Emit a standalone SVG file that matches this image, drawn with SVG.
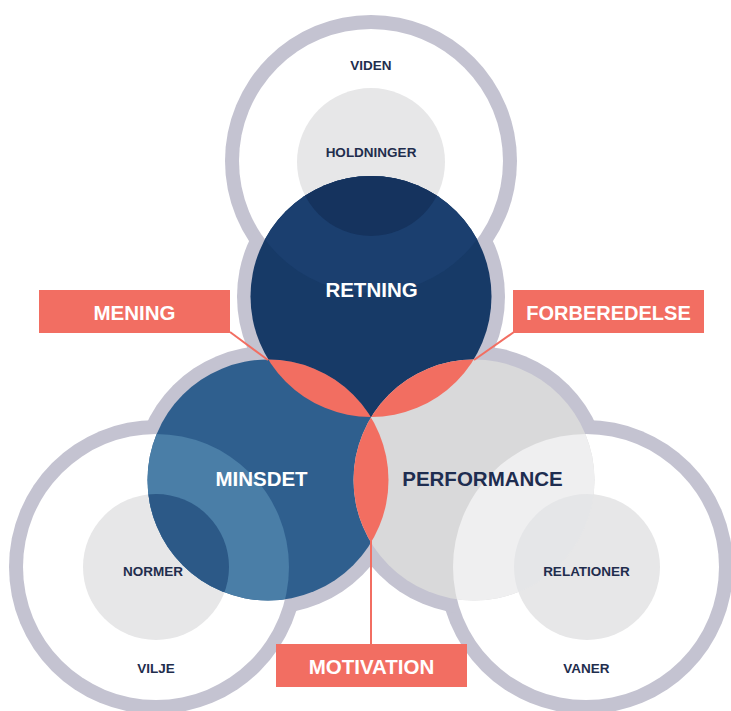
<svg xmlns="http://www.w3.org/2000/svg" width="731" height="711" viewBox="0 0 731 711">
<defs>
<style>
.ring{fill:#c4c3d1}
.hole{fill:#ffffff}
.core{fill:#e7e7e8}
.lens{fill:#f26e61}
.tag{fill:#f26e62}
.lbl{font-family:"Liberation Sans",Arial,sans-serif;font-weight:bold;text-anchor:middle}
.sm{font-size:13.5px;fill:#1f2d4d}
.big{font-size:20.5px}
.w{fill:#ffffff}
.n{fill:#1e2d50}
.conn{stroke:#f26e62;stroke-width:2;fill:none}
</style>
<clipPath id="cTop"><circle cx="371" cy="296.5" r="120.5"/></clipPath>
<clipPath id="cLeft"><circle cx="268" cy="480" r="120.5"/></clipPath>
<clipPath id="cRight"><circle cx="474" cy="480" r="120.5"/></clipPath>
</defs>
<rect x="0" y="0" width="731" height="711" fill="#ffffff"/>

<g id="outlines">
<circle class="ring" cx="371" cy="161" r="146"/>
<circle class="ring" cx="156" cy="567" r="147"/>
<circle class="ring" cx="586" cy="567" r="147"/>
<circle class="ring" cx="371" cy="296.5" r="134"/>
<circle class="ring" cx="268" cy="480" r="134"/>
<circle class="ring" cx="474" cy="480" r="134"/>
</g>

<g id="node-viden">
<circle class="hole" cx="371" cy="161" r="132"/>
<circle class="core" cx="371" cy="162" r="74"/>
<text class="lbl sm" x="371" y="70">VIDEN</text>
<text class="lbl sm" x="371" y="157">HOLDNINGER</text>
</g>

<g id="node-vilje">
<circle class="hole" cx="156" cy="567" r="133"/>
<circle class="core" cx="156" cy="567" r="73"/>
<text class="lbl sm" x="153" y="576">NORMER</text>
<text class="lbl sm" x="156" y="673">VILJE</text>
</g>

<g id="node-vaner">
<circle class="hole" cx="586" cy="567" r="133"/>
<circle class="core" cx="587" cy="567" r="73"/>
<text class="lbl sm" x="586.5" y="673">VANER</text>
</g>

<g id="node-retning">
<circle cx="371" cy="296.5" r="120.5" fill="#173a67"/>
<circle cx="371" cy="161" r="132" fill="#1b3f6f" clip-path="url(#cTop)"/>
<circle cx="371" cy="162" r="74" fill="#15335e" clip-path="url(#cTop)"/>
<text class="lbl big w" x="371.5" y="297">RETNING</text>
</g>

<g id="node-minsdet">
<circle cx="268" cy="480" r="120.5" fill="#2f5f8e"/>
<circle cx="156" cy="567" r="133" fill="#4a7ea7" clip-path="url(#cLeft)"/>
<circle cx="156" cy="567" r="73" fill="#2c5987" clip-path="url(#cLeft)"/>
<text class="lbl big w" x="261.5" y="486">MINSDET</text>
</g>

<g id="node-performance">
<circle cx="474" cy="480" r="120.5" fill="#d9d9da"/>
<circle cx="586" cy="567" r="133" fill="#efeff0" clip-path="url(#cRight)"/>
<circle cx="587" cy="567" r="73" fill="#e5e6e8" clip-path="url(#cRight)"/>
<text class="lbl big n" x="482.5" y="486">PERFORMANCE</text>
</g>

<g id="node-relationer-label">
<text class="lbl sm" x="586.5" y="576">RELATIONER</text>
</g>

<g id="lens-mening">
<circle class="lens" cx="268" cy="480" r="120.5" clip-path="url(#cTop)"/>
</g>
<g id="lens-forberedelse">
<circle class="lens" cx="474" cy="480" r="120.5" clip-path="url(#cTop)"/>
</g>
<g id="lens-motivation">
<circle class="lens" cx="474" cy="480" r="120.5" clip-path="url(#cLeft)"/>
</g>

<g id="connectors">
<line class="conn" x1="230" y1="332" x2="268" y2="360"/>
<line class="conn" x1="514" y1="332" x2="474" y2="360"/>
<line class="conn" x1="371" y1="541" x2="371" y2="645"/>
</g>

<g id="label-mening">
<rect class="tag" x="39" y="290" width="191" height="43"/>
<text class="lbl big w" x="134.5" y="320">MENING</text>
</g>
<g id="label-forberedelse">
<rect class="tag" x="513" y="290" width="191" height="43"/>
<text class="lbl w" style="font-size:20px" x="608.5" y="320">FORBEREDELSE</text>
</g>
<g id="label-motivation">
<rect class="tag" x="276" y="644" width="191" height="43"/>
<text class="lbl big w" x="371.5" y="674">MOTIVATION</text>
</g>
</svg>
